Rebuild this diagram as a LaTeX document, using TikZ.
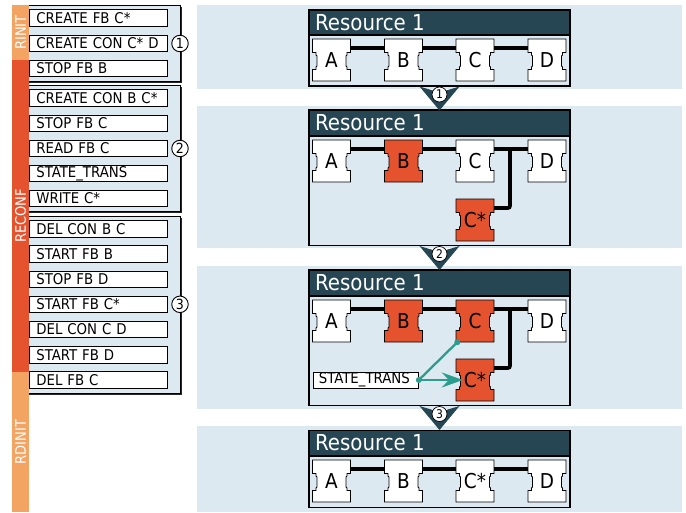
\documentclass[tikz,border=0pt]{standalone}
\usepackage{fontspec}
\setmainfont{DejaVu Sans Condensed}
\usetikzlibrary{arrows.meta,calc}
\definecolor{panelbg}{HTML}{DDE9F0}
\definecolor{hdr}{HTML}{264653}
\definecolor{redfb}{HTML}{E4532E}
\definecolor{lightor}{HTML}{F4A462}
\definecolor{tealc}{HTML}{2A9D8F}
\tikzset{
  item/.style={draw=black, fill=white, line width=0.8pt, text width=124pt, inner xsep=7pt, inner ysep=0pt,
    minimum height=16.7pt, align=left, anchor=west, font=\fontsize{14.8}{15}\selectfont},
  num/.style={circle, draw=black, fill=white, line width=0.9pt, minimum size=16.5pt, inner sep=0pt,
    font=\fontsize{14}{14}\selectfont},
  chnum/.style={circle, draw=black, fill=white, line width=0.7pt, minimum size=15pt, inner sep=0pt,
    font=\fontsize{12}{12}\selectfont},
  fblabel/.style={minimum width=38pt, minimum height=42pt, inner sep=0pt, font=\fontsize{20.5}{20.5}\selectfont},
  hdrtext/.style={text=white, anchor=west, inner sep=0pt, font=\fontsize{22}{22}\selectfont},
  barlabel/.style={text=white, rotate=90, inner sep=0pt, font=\fontsize{14.5}{15}\selectfont},
  conn/.style={line width=3.6pt, black},
  resbox/.style={draw=black, line width=1.1pt, fill=panelbg},
  hdrbox/.style={draw=black, line width=1.1pt, fill=hdr},
  tealline/.style={tealc, line width=2.3pt},
  stbox/.style={draw=black, fill=white, line width=0.8pt, minimum width=105pt, minimum height=16pt, inner sep=0pt,
    anchor=west, font=\fontsize{14.8}{15}\selectfont},
}
\newcommand\fbk[5]{%
  \begin{scope}[shift={(#2,#3)}]
    \draw[fill=#4, line width=0.9pt] (-19,-21) -- (19,-21) -- (19,-7.5) -- (15.5,-7.5) -- (15.5,-5) -- (14.5,-4)
      -- (14.5,6) -- (15.5,7) -- (15.5,9.5) -- (19,9.5) -- (19,21) -- (-19,21) -- (-19,9.5) -- (-15.5,9.5)
      -- (-15.5,7) -- (-14.5,6) -- (-14.5,-4) -- (-15.5,-5) -- (-15.5,-7.5) -- (-19,-7.5) -- cycle;
    \node[fblabel] (#1) at (0,0) {#5};
  \end{scope}}
\newcommand\chev[3]{% name, top y, number
  \fill[hdr] (419.5,#2) -- (439.5,#2+6) -- (459.5,#2) -- (439.5,#2+24) -- cycle;
  \node[chnum] (#1) at (439.5,#2+8) {#3};}
\begin{document}
\begin{tikzpicture}[x=1pt,y=-1pt]
\useasboundingbox (0,0) rectangle (686,512);
% right panels
\fill[panelbg] (197,5) rectangle (682,89);
\fill[panelbg] (197,106) rectangle (682,248);
\fill[panelbg] (197,266) rectangle (682,409);
\fill[panelbg] (197,426) rectangle (682,512);

% left group boxes
\fill[black!85] (23.5,6.5) rectangle (181.5,82.5);
\draw[fill=panelbg, line width=0.9pt] (22,5) rectangle (180,81);
\fill[black!85] (23.5,86.5) rectangle (181.5,213);
\draw[fill=panelbg, line width=0.9pt] (22,85) rectangle (180,211.5);
\fill[black!85] (23.5,217.5) rectangle (181.5,394.5);
\draw[fill=panelbg, line width=0.9pt] (22,216) rectangle (180,393);

% items
\node[item] (i1) at (29,18) {CREATE FB C*};
\node[item] (i2) at (29,43.3) {CREATE CON C* D};
\node[item] (i3) at (29,68.5) {STOP FB B};
\node[item] (i4) at (29,98) {CREATE CON B C*};
\node[item] (i5) at (29,123.5) {STOP FB C};
\node[item] (i6) at (29,148.5) {READ FB C};
\node[item] (i7) at (29,173.5) {STATE\_TRANS};
\node[item] (i8) at (29,198.5) {WRITE C*};
\node[item] (i9) at (29,229) {DEL CON B C};
\node[item] (i10) at (29,254) {START FB B};
\node[item] (i11) at (29,279.3) {STOP FB D};
\node[item] (i12) at (29,304.3) {START FB C*};
\node[item] (i13) at (29,329.3) {DEL CON C D};
\node[item] (i14) at (29,354.7) {START FB D};
\node[item] (i15) at (29,380) {DEL FB C};

\node[num] (n1) at (180,43.5) {1};
\node[num] (n2) at (180,148.5) {2};
\node[num] (n3) at (180,304.3) {3};

% colour bar
\fill[lightor] (12,5) rectangle (29,60);
\fill[redfb] (12,60) rectangle (29,372);
\fill[lightor] (12,372) rectangle (29,512);
\node[barlabel] (l1) at (20.5,32.5) {RINIT};
\node[barlabel] (l2) at (20.5,216) {RECONF};
\node[barlabel] (l3) at (20.5,442) {RDINIT};

% ---------- panel 1
\draw[resbox] (309,10) rectangle (570,86);
\draw[hdrbox] (309,10) rectangle (570,35);
\node[hdrtext] (h1) at (315,22.5) {Resource 1};
\fbk{a1}{331.5}{60}{white}{A}
\fbk{b1}{403.5}{60}{white}{B}
\fbk{c1}{475}{60}{white}{C}
\fbk{d1}{547}{60}{white}{D}
\draw[conn] ([yshift=12pt]a1.east) -- ([yshift=12pt]b1.west);
\draw[conn] ([yshift=12pt]b1.east) -- ([yshift=12pt]c1.west);
\draw[conn] ([yshift=12pt]c1.east) -- ([yshift=12pt]d1.west);

% ---------- panel 2
\draw[resbox] (309,110) rectangle (570,245.5);
\draw[hdrbox] (309,110) rectangle (570,136);
\node[hdrtext] (h2) at (315,123) {Resource 1};
\fbk{a2}{331.5}{161}{white}{A}
\fbk{b2}{403.5}{161}{redfb}{B}
\fbk{c2}{475}{161}{white}{C}
\fbk{d2}{547}{161}{white}{D}
\fbk{cs2}{475}{220}{redfb}{C*}
\draw[conn] ([yshift=12pt]a2.east) -- ([yshift=12pt]b2.west);
\draw[conn] ([yshift=12pt]b2.east) -- ([yshift=12pt]c2.west);
\draw[conn] ([yshift=12pt]c2.east) -- ([yshift=12pt]d2.west);
\draw[conn, rounded corners=2pt] ($([yshift=12pt]c2.east)!0.47!([yshift=12pt]d2.west)$) |- ([yshift=12pt]cs2.east);

% ---------- panel 3
\draw[resbox] (309,270) rectangle (570,405.5);
\draw[hdrbox] (309,270) rectangle (570,296);
\node[hdrtext] (h3) at (315,283) {Resource 1};
\fbk{a3}{331.5}{321}{white}{A}
\fbk{b3}{403.5}{321}{redfb}{B}
\fbk{c3}{475}{321}{redfb}{C}
\fbk{d3}{547}{321}{white}{D}
\fbk{cs3}{475}{380}{redfb}{C*}
\draw[conn] ([yshift=12pt]a3.east) -- ([yshift=12pt]b3.west);
\draw[conn] ([yshift=12pt]b3.east) -- ([yshift=12pt]c3.west);
\draw[conn] ([yshift=12pt]c3.east) -- ([yshift=12pt]d3.west);
\draw[conn, rounded corners=2pt] ($([yshift=12pt]c3.east)!0.47!([yshift=12pt]d3.west)$) |- ([yshift=12pt]cs3.east);
\node[stbox] (st3) at (313,380) {\hspace*{-3pt}STATE\_TRANS};
\coordinate (cdot) at ([xshift=1.5pt]c3.south west);
\draw[tealline] (st3.east) -- (cdot);
\draw[tealline, -{Stealth[length=21pt,width=15pt,inset=7pt]}] (st3.east) -- ([xshift=7pt]cs3.west);
\fill[tealc] (st3.east) circle[radius=3];
\fill[tealc] (cdot) circle[radius=3];

% ---------- panel 4
\draw[resbox] (309,430.5) rectangle (570,507.5);
\draw[hdrbox] (309,430.5) rectangle (570,456);
\node[hdrtext] (h4) at (315,443) {Resource 1};
\fbk{a4}{331.5}{481}{white}{A}
\fbk{b4}{403.5}{481}{white}{B}
\fbk{cs4}{475}{481}{white}{C*}
\fbk{d4}{547}{481}{white}{D}
\draw[conn] ([yshift=12pt]a4.east) -- ([yshift=12pt]b4.west);
\draw[conn] ([yshift=12pt]b4.east) -- ([yshift=12pt]cs4.west);
\draw[conn] ([yshift=12pt]cs4.east) -- ([yshift=12pt]d4.west);

% chevrons
\chev{k1}{86.5}{1}
\chev{k2}{246}{2}
\chev{k3}{406}{3}
\end{tikzpicture}
\end{document}
